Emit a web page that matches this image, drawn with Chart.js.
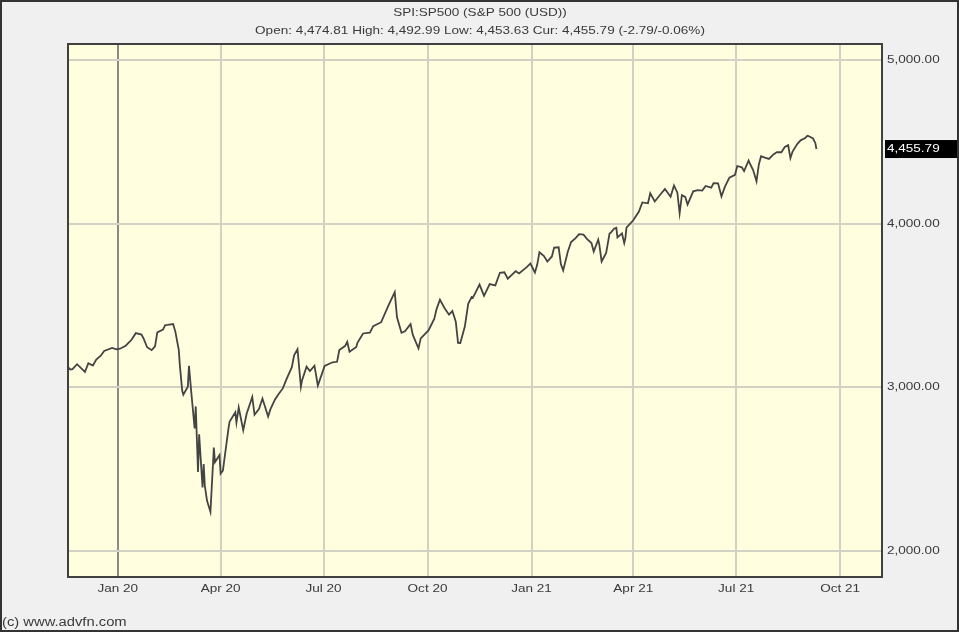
<!DOCTYPE html>
<html>
<head>
<meta charset="utf-8">
<title>SPI:SP500</title>
<script src="https://cdn.jsdelivr.net/npm/chart.js@4"></script>
<style>
  html, body { margin: 0; padding: 0; background: #f0f0f0; }
  canvas { display: block; }
</style>
</head>
<body>
<canvas id="grafico" width="959" height="632"></canvas>
<script>
// closes (S&P 500, Nov 2019 - Sep 2021), one line per month
const fechas = [
  "2019-11-18","2019-11-20","2019-11-22","2019-11-26",
  "2019-12-03","2019-12-06","2019-12-10","2019-12-13","2019-12-17","2019-12-20","2019-12-27","2019-12-31",
  "2020-01-03","2020-01-08","2020-01-13","2020-01-17","2020-01-22","2020-01-24","2020-01-27","2020-01-31",
  "2020-02-03","2020-02-05","2020-02-10","2020-02-12","2020-02-14","2020-02-19","2020-02-21","2020-02-24","2020-02-25","2020-02-27","2020-02-28",
  "2020-03-03","2020-03-04","2020-03-06","2020-03-09","2020-03-10","2020-03-12","2020-03-13","2020-03-16","2020-03-17","2020-03-18","2020-03-20","2020-03-23","2020-03-26","2020-03-27","2020-03-31",
  "2020-04-01","2020-04-03","2020-04-08","2020-04-09","2020-04-14","2020-04-15","2020-04-17","2020-04-21","2020-04-24","2020-04-29",
  "2020-05-01","2020-05-05","2020-05-08","2020-05-13","2020-05-15","2020-05-19","2020-05-22","2020-05-26","2020-05-29",
  "2020-06-03","2020-06-05","2020-06-08","2020-06-11","2020-06-12","2020-06-16","2020-06-19","2020-06-23","2020-06-26",
  "2020-07-02","2020-07-09","2020-07-13","2020-07-15","2020-07-20","2020-07-22","2020-07-24","2020-07-30","2020-07-31",
  "2020-08-05","2020-08-11","2020-08-14","2020-08-21","2020-08-28",
  "2020-09-02","2020-09-04","2020-09-08","2020-09-11","2020-09-16","2020-09-18","2020-09-23","2020-09-25",
  "2020-10-02","2020-10-07","2020-10-09","2020-10-12","2020-10-16","2020-10-20","2020-10-23","2020-10-26","2020-10-28","2020-10-30",
  "2020-11-03","2020-11-06","2020-11-09","2020-11-10","2020-11-13","2020-11-16","2020-11-20","2020-11-25","2020-11-30",
  "2020-12-04","2020-12-08","2020-12-11","2020-12-18","2020-12-21","2020-12-28","2020-12-31",
  "2021-01-04","2021-01-06","2021-01-08","2021-01-12","2021-01-15","2021-01-19","2021-01-21","2021-01-25","2021-01-27","2021-01-29",
  "2021-02-02","2021-02-05","2021-02-09","2021-02-12","2021-02-16","2021-02-19","2021-02-23","2021-02-25",
  "2021-03-01","2021-03-02","2021-03-04","2021-03-08","2021-03-11","2021-03-12","2021-03-15","2021-03-17","2021-03-18","2021-03-22","2021-03-24","2021-03-25","2021-03-26",
  "2021-04-01","2021-04-06","2021-04-09","2021-04-14","2021-04-16","2021-04-20","2021-04-26","2021-04-29",
  "2021-05-04","2021-05-07","2021-05-10","2021-05-12","2021-05-14","2021-05-17","2021-05-19","2021-05-24","2021-05-28",
  "2021-06-01","2021-06-04","2021-06-09","2021-06-11","2021-06-15","2021-06-18","2021-06-21","2021-06-25","2021-06-30",
  "2021-07-02","2021-07-06","2021-07-08","2021-07-12","2021-07-13","2021-07-16","2021-07-19","2021-07-21","2021-07-23","2021-07-27","2021-07-30",
  "2021-08-03","2021-08-06","2021-08-10","2021-08-13","2021-08-16","2021-08-18","2021-08-20","2021-08-24","2021-08-27","2021-08-31",
  "2021-09-02","2021-09-03","2021-09-07","2021-09-09","2021-09-10"
];
const cierres = [
  3122, 3108, 3110, 3140,
  3093, 3146, 3132, 3169, 3192, 3221, 3240, 3231,
  3235, 3253, 3288, 3330, 3321, 3295, 3244, 3226,
  3249, 3335, 3352, 3379, 3380, 3386, 3338, 3226, 3128, 2979, 2954,
  3003, 3130, 2972, 2747, 2882, 2481, 2711, 2386, 2529, 2398, 2305, 2237, 2630, 2541, 2585,
  2471, 2489, 2750, 2790, 2846, 2783, 2875, 2737, 2837, 2940,
  2831, 2868, 2930, 2820, 2864, 2923, 2955, 2992, 3044,
  3122, 3194, 3232, 3002, 3041, 3125, 3098, 3131, 3009,
  3130, 3152, 3155, 3227, 3251, 3277, 3216, 3246, 3271,
  3328, 3333, 3373, 3397, 3508,
  3581, 3427, 3332, 3341, 3385, 3319, 3237, 3298,
  3348, 3419, 3477, 3534, 3484, 3443, 3465, 3400, 3271, 3270,
  3370, 3509, 3550, 3545, 3585, 3627, 3558, 3630, 3622,
  3699, 3702, 3663, 3709, 3695, 3735, 3756,
  3701, 3748, 3825, 3801, 3768, 3799, 3853, 3855, 3751, 3714,
  3826, 3887, 3911, 3935, 3932, 3907, 3881, 3829,
  3902, 3870, 3768, 3821, 3939, 3943, 3969, 3974, 3915, 3940, 3881, 3910, 3975,
  4020, 4074, 4129, 4124, 4185, 4135, 4187, 4211,
  4164, 4233, 4189, 4063, 4174, 4163, 4116, 4197, 4204,
  4202, 4230, 4220, 4247, 4246, 4166, 4224, 4281, 4298,
  4352, 4344, 4321, 4385, 4369, 4327, 4258, 4359, 4412, 4402, 4395,
  4423, 4437, 4436, 4468, 4479, 4400, 4442, 4486, 4509, 4523,
  4537, 4535, 4520, 4493, 4455.79
];

const fechasTicks = ["2020-01-01","2020-04-01","2020-07-01","2020-10-01","2021-01-01","2021-04-01","2021-07-01","2021-10-01"];
const etiquetasTicks = ["Jan 20","Apr 20","Jul 20","Oct 20","Jan 21","Apr 21","Jul 21","Oct 21"];
const valoresY = [2000, 3000, 4000, 5000];

const titulo1 = "SPI:SP500 (S&P 500 (USD))";
const titulo2 = "Open: 4,474.81 High: 4,492.99 Low: 4,453.63 Cur: 4,455.79 (-2.79/-0.06%)";
const copyright = "(c) www.advfn.com";
const actual = 4455.79;

const FUENTE = "'Liberation Sans', Arial, sans-serif";
const ESTIRA = 1.23;   // the advfn text is drawn a bit wide
const diaNum = s => (Date.parse(s) - Date.parse("2020-01-01")) / 86400000;
const fmt = v => v.toLocaleString("en-US", { minimumFractionDigits: 2, maximumFractionDigits: 2 });

const puntos = fechas.map((f, i) => ({ x: diaNum(f), y: cierres[i] }));

function texto(c, t, x, y, align, size) {
  c.save();
  c.font = (size || 11) + "px " + FUENTE;
  c.textAlign = align;
  c.textBaseline = "middle";
  c.translate(x, y);
  c.scale(ESTIRA, 1);
  c.fillText(t, 0, 0);
  c.restore();
}

// fondo, marco, textos y etiqueta del precio actual
const decorado = {
  id: "decorado",
  beforeDraw(chart) {
    const c = chart.ctx, a = chart.chartArea;
    c.save();
    c.fillStyle = "#f0f0f0";
    c.fillRect(0, 0, chart.width, chart.height);
    c.fillStyle = "#ffffe0";
    c.fillRect(a.left, a.top, a.right - a.left, a.bottom - a.top);
    c.restore();
  },
  afterDraw(chart) {
    const c = chart.ctx, a = chart.chartArea;
    const sx = chart.scales.x, sy = chart.scales.y;
    c.save();
    c.strokeStyle = "#404040";
    c.lineWidth = 2;
    c.strokeRect(a.left, a.top, a.right - a.left, a.bottom - a.top);

    c.fillStyle = "#3a3a3a";
    texto(c, titulo1, 480, 13, "center");
    texto(c, titulo2, 480, 31, "center");
    texto(c, copyright, 2, 623, "left", 12);

    fechasTicks.forEach((f, i) => texto(c, etiquetasTicks[i], sx.getPixelForValue(diaNum(f)), 589, "center"));
    valoresY.forEach(v => texto(c, fmt(v), 887, sy.getPixelForValue(v), "left"));

    // caja negra con el ultimo valor
    const y = sy.getPixelForValue(actual);
    c.fillStyle = "#000";
    c.fillRect(885, y - 9, 74, 18);
    c.fillStyle = "#fff";
    texto(c, fmt(actual), 887, y, "left");

    // borde exterior
    c.strokeStyle = "#333";
    c.lineWidth = 2;
    c.strokeRect(1, 1, chart.width - 2, chart.height - 2);
    c.restore();
  }
};

if (fechas.length !== cierres.length) console.error("fechas/cierres length mismatch");

new Chart(document.getElementById("grafico"), {
  type: "line",
  data: {
    datasets: [{
      data: puntos,
      borderColor: "#444",
      borderWidth: 1.8,
      pointRadius: 0,
      tension: 0,
      fill: false
    }]
  },
  options: {
    responsive: false,
    animation: false,
    layout: { padding: { left: 68, top: 44, right: 0, bottom: 25 } },
    plugins: { legend: { display: false }, tooltip: { enabled: false } },
    scales: {
      x: {
        type: "linear",
        min: -44,
        max: 676,
        afterBuildTicks: s => { s.ticks = fechasTicks.map(f => ({ value: diaNum(f) })); },
        afterFit: s => { s.height = 30; },
        ticks: { display: false },
        grid: {
          drawTicks: false,
          lineWidth: 2,
          color: ctx => (ctx.tick && ctx.tick.value === 0) ? "#8a8a8a" : "#d2d2c4"
        },
        border: { display: false }
      },
      y: {
        position: "right",
        min: 1839,
        max: 5098,
        afterBuildTicks: s => { s.ticks = valoresY.map(v => ({ value: v })); },
        afterFit: s => { s.width = 77; },
        ticks: { display: false },
        grid: { drawTicks: false, lineWidth: 2, color: "#d2d2c4" },
        border: { display: false }
      }
    }
  },
  plugins: [decorado]
});
</script>
</body>
</html>
